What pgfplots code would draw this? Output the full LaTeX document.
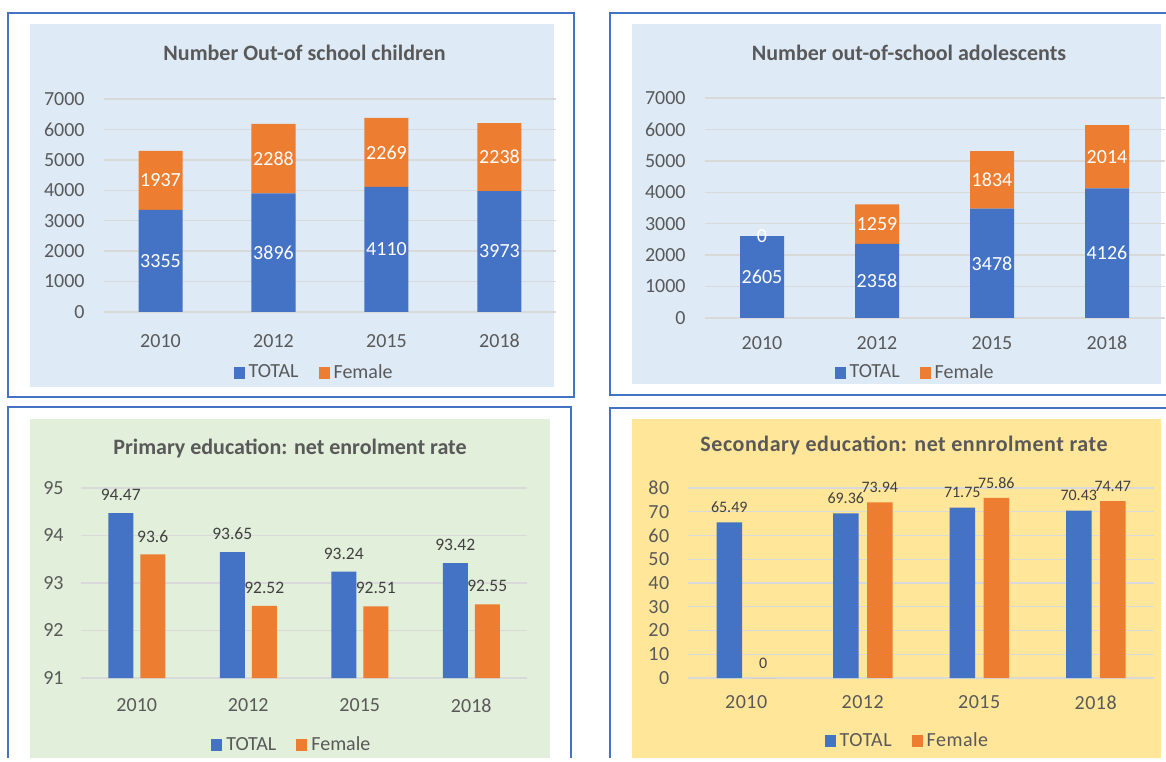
\documentclass[border=0pt]{standalone}
\usepackage{fontspec}
\setmainfont{Carlito}
\newfontfamily\spaced[LetterSpace=2.5]{Carlito}
\usepackage{pgfplots}
\pgfplotsset{compat=1.18}

\definecolor{cblue}{HTML}{4472C4}
\definecolor{corange}{HTML}{ED7D31}
\definecolor{txt}{HTML}{595959}
\definecolor{lbl}{HTML}{404040}
\definecolor{gridc}{HTML}{D9D9D9}
\definecolor{bgblue}{HTML}{DEEBF7}
\definecolor{bggreen}{HTML}{E2EFDA}
\definecolor{bgyellow}{HTML}{FFE699}
\definecolor{frame}{HTML}{4472C4}

\pgfplotsset{
  sqlegend/.style={legend image code/.code={\fill[##1] (0pt,-2.8pt) rectangle (5.5pt,2.8pt);}},
  panel/.style={
    scale only axis,
    axis line style={draw=none},
    tick style={draw=none},
    ymajorgrids,
    major grid style={draw=gridc, line width=0.7pt},
    xmin=-0.5, xmax=3.5,
    xtick={0,1,2,3},
    xticklabels={2010,2012,2015,2018},
    /pgf/number format/assume math mode=true,
    /pgf/number format/1000 sep={},
    ticklabel style={font=\fontsize{10}{12}\selectfont, text=txt},
    clip mode=individual,
    legend columns=2,
    legend style={draw=none, fill=none, font=\fontsize{10}{12}\selectfont,
      text=txt, anchor=center,
      /tikz/every even column/.append style={column sep=8pt}},
  },
}

\begin{document}
\begin{tikzpicture}
\begin{scope}[x=0.5pt,y=-0.5pt]
  \path[use as bounding box, fill=white] (0,0) rectangle (1166,758);
  % backgrounds
  \fill[bgblue] (30,24) rectangle (554,387);
  \fill[bgblue] (632,24) rectangle (1161,384);
  \fill[bggreen] (30,419) rectangle (550,758);
  \fill[bgyellow] (632,419) rectangle (1161,758);
  % frames
  \draw[frame, line width=1.1pt] (8,13) rectangle (574,397);
  \draw[frame, line width=1.1pt] (1166,13) -- (610,13) -- (610,395) -- (1166,395);
  \draw[frame, line width=1.1pt] (8,758) -- (8,407) -- (571,407) -- (571,758);
  \draw[frame, line width=1.1pt] (1166,408) -- (610,408) -- (610,758);
  % titles
  \node[font=\fontsize{11}{13}\selectfont\bfseries, text=txt] at (304.5,53) {Number Out-of school children};
  \node[font=\fontsize{11}{13}\selectfont\bfseries, text=txt] at (909,53) {Number out-of-school adolescents};
  \node[font=\fontsize{11}{13}\selectfont\bfseries, text=txt] at (290,448) {Primary education: net enrolment rate};
  \node[font=\spaced\fontsize{11}{13}\selectfont\bfseries, text=txt] at (904,445) {Secondary education: net ennrolment rate};
  % axis corners
  \coordinate (A1) at (104,312);
  \coordinate (A2) at (704.5,318);
  \coordinate (A3) at (81,678);
  \coordinate (A4) at (688,678);
\end{scope}

% Out-of-school children
\begin{axis}[panel, at={(A1)}, anchor=south west,
  width=226pt, height=106.5pt,
  ymin=0, ymax=7000, ytick={0,1000,...,7000},
  ybar stacked, bar width=22pt,
  every axis plot post/.append style={sqlegend},
  xticklabel style={anchor=center, yshift=-14.5pt},
  yticklabel style={anchor=east, inner sep=0pt, xshift=-9.5pt},
  legend style={at={(0.467,-0.286)}},
  point meta=rawy,
  nodes near coords,
  every node near coord/.append style={font=\fontsize{10}{12}\selectfont, text=white,
    anchor=center},
]
\addplot[fill=cblue, draw=none] coordinates {(0,3355) (1,3896) (2,4110) (3,3973)};
\addplot[fill=corange, draw=none] coordinates {(0,1937) (1,2288) (2,2269) (3,2238)};
\legend{TOTAL,Female}
\end{axis}

% Out-of-school adolescents
\begin{axis}[panel, at={(A2)}, anchor=south west,
  width=230pt, height=110pt,
  ymin=0, ymax=7000, ytick={0,1000,...,7000},
  ybar stacked, bar width=22pt,
  every axis plot post/.append style={sqlegend},
  xticklabel style={anchor=center, yshift=-12.5pt},
  yticklabel style={anchor=east, inner sep=0pt, xshift=-9.25pt},
  legend style={at={(0.46,-0.25)}},
  point meta=rawy,
  nodes near coords,
  every node near coord/.append style={font=\fontsize{10}{12}\selectfont, text=white,
    anchor=center},
]
\addplot[fill=cblue, draw=none] coordinates {(0,2605) (1,2358) (2,3478) (3,4126)};
\addplot[fill=corange, draw=none] coordinates {(0,0) (1,1259) (2,1834) (3,2014)};
\legend{TOTAL,Female}
\end{axis}
% label of the empty 2010 female segment (stacked zero segments get no node)
\begin{axis}[at={(A2)}, anchor=south west, scale only axis, hide axis,
  width=230pt, height=110pt, xmin=-0.5, xmax=3.5, ymin=0, ymax=7000,
  clip=false]
\addplot[draw=none, mark=none, nodes near coords, point meta=explicit symbolic,
  every node near coord/.append style={font=\fontsize{10}{12}\selectfont, text=white, anchor=center}]
  coordinates {(0,2605)[0]};
\end{axis}

% Primary net enrolment rate
\begin{axis}[panel, at={(A3)}, anchor=south west,
  width=223pt, height=95pt,
  ymin=91, ymax=95, ytick={91,92,93,94,95},
  ybar=3.5pt, bar width=12.5pt,
  every axis plot post/.append style={sqlegend},
  xticklabel style={anchor=center, yshift=-9.5pt},
  yticklabel style={anchor=east, inner sep=0pt, xshift=-8.5pt},
  legend style={at={(0.475,-0.353)}},
  nodes near coords,
  every node near coord/.append style={font=\fontsize{8.75}{10}\selectfont, text=lbl,
    anchor=center, yshift=9pt},
]
\addplot[fill=cblue, draw=none] coordinates {(0,94.47) (1,93.65) (2,93.24) (3,93.42)};
\addplot[fill=corange, draw=none] coordinates {(0,93.6) (1,92.52) (2,92.51) (3,92.55)};
\legend{TOTAL,Female}
\end{axis}

% Secondary net enrolment rate
\begin{axis}[panel, at={(A4)}, anchor=south west,
  width=233pt, height=95pt,
  ymin=0, ymax=80, ytick={0,10,...,80},
  ybar=4.25pt, bar width=12.75pt,
  every axis plot post/.append style={sqlegend},
  ticklabel style={font=\spaced\fontsize{10}{12}\selectfont},
  xticklabel style={anchor=center, yshift=-8pt},
  yticklabel style={anchor=east, inner sep=0pt, xshift=-9.2pt},
  legend style={at={(0.473,-0.332)}, font=\spaced\fontsize{10}{12}\selectfont},
  nodes near coords,
  every node near coord/.append style={font=\fontsize{8}{10}\selectfont, text=lbl,
    anchor=center, yshift=7.5pt},
]
\addplot[fill=cblue, draw=none] coordinates {(0,65.49) (1,69.36) (2,71.75) (3,70.43)};
\addplot[fill=corange, draw=none] coordinates {(0,0) (1,73.94) (2,75.86) (3,74.47)};
\legend{TOTAL,Female}
\end{axis}
\end{tikzpicture}
\end{document}
